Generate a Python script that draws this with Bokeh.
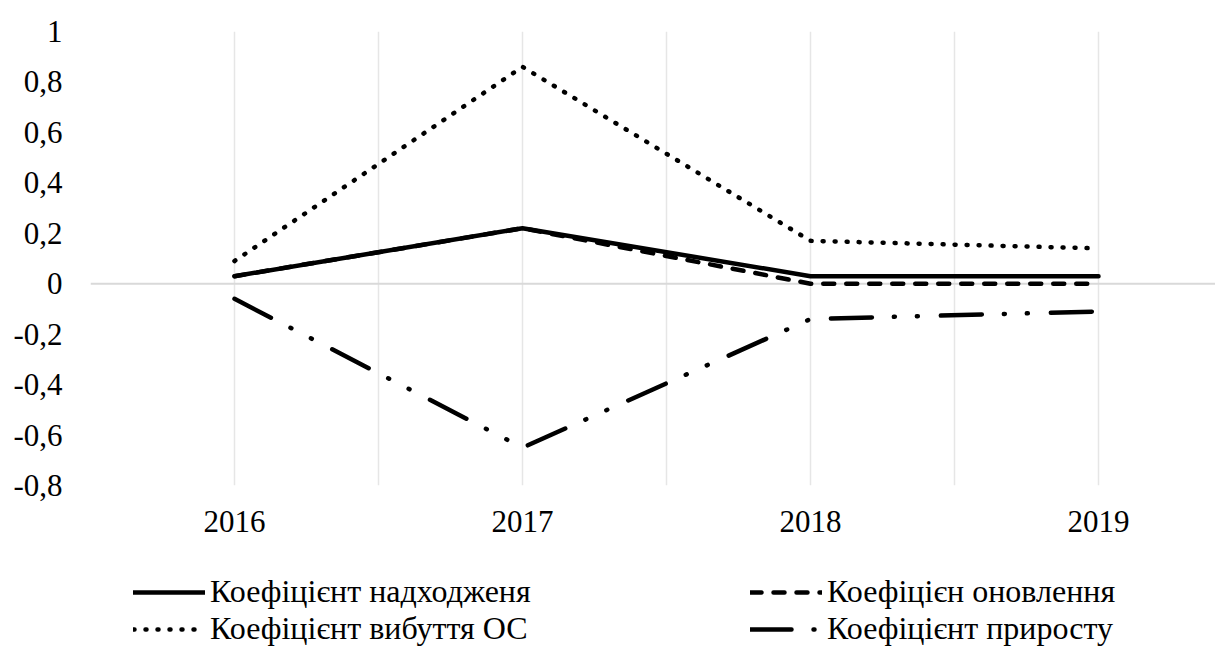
from bokeh.plotting import figure
from bokeh.layouts import column
from bokeh.models import Range1d, FixedTicker, Span, Legend, LegendItem
from bokeh.embed import file_html
from bokeh.resources import INLINE

# ---- data ----
years = ["2016", "2017", "2018", "2019"]
k_nadkhodzhennia = [0.03, 0.22, 0.03, 0.03]
k_onovlennia = [0.03, 0.22, 0.0, 0.0]
k_vybuttia = [0.09, 0.86, 0.17, 0.14]
k_pryrostu = [-0.06, -0.65, -0.14, -0.11]
series_names = ["Коефіцієнт надходженя", "Коефіцієн оновлення",
                "Коефіцієнт вибуття ОС", "Коефіцієнт приросту"]
y_ticks = [-0.8, -0.6, -0.4, -0.2, 0, 0.2, 0.4, 0.6, 0.8, 1]
y_tick_labels = ["-0,8", "-0,6", "-0,4", "-0,2", "0", "0,2", "0,4", "0,6", "0,8", "1"]

FONT = "Liberation Serif"
FS = "31px"
FS_LEG = "32px"

x = list(range(len(years)))

W = 1215
H1, H2 = 552, 95
LEFT, TOP, FH = 90, 31, 454
p = figure(width=W, height=H1, output_backend="svg", toolbar_location=None,
           x_range=Range1d(-0.5, -0.5 + (W - LEFT) / 288), y_range=Range1d(-0.8, 1),
           min_border_left=LEFT, min_border_right=0, min_border_top=TOP,
           min_border_bottom=H1 - TOP - FH)
p.outline_line_color = None

# axes
p.xaxis.ticker = FixedTicker(ticks=x)
p.xaxis.major_label_overrides = {i: y for i, y in enumerate(years)}
p.yaxis.ticker = FixedTicker(ticks=y_ticks)
p.yaxis.major_label_overrides = dict(zip(y_ticks, y_tick_labels))
for ax in (p.xaxis, p.yaxis):
    ax.axis_line_color = None
    ax.major_tick_line_color = None
    ax.minor_tick_line_color = None
    ax.major_tick_out = 0
    ax.major_tick_in = 0
    ax.major_label_text_font = FONT
    ax.major_label_text_font_size = FS
    ax.major_label_text_color = "black"
p.xaxis.major_label_standoff = 25
p.yaxis.major_label_standoff = 28

# grid
p.ygrid.grid_line_color = None
p.xgrid.ticker = FixedTicker(ticks=[-0.5 + 0.5 * i for i in range(9)])
p.xgrid.grid_line_color = "#e6e6e6"
p.xgrid.grid_line_width = 1.5

p.add_layout(Span(location=0, dimension="width", line_color="#d9d9d9",
                  line_width=2, level="underlay"))

styles = [
    dict(line_dash="solid"),
    dict(line_dash="11 12"),
    dict(line_dash="1 11"),
    dict(line_dash="41 22 1 22 1 23"),
]
series = [k_nadkhodzhennia, k_onovlennia, k_vybuttia, k_pryrostu]
for vals, st in zip(series, styles):
    p.line(x, vals, line_color="black", line_width=4.5, line_cap="round",
           line_join="round", **st)

# ---- legend strip below the chart ----
p2 = figure(width=W, height=H2, output_backend="svg", toolbar_location=None,
            x_range=Range1d(0, 1), y_range=Range1d(0, 1),
            min_border=0, min_border_left=0, min_border_right=0,
            min_border_top=0, min_border_bottom=0)
p2.outline_line_color = None
p2.axis.visible = False
p2.grid.visible = False
leg_renderers = []
for st in styles:
    # placeholder renderers (no visible data) that only carry the legend styles
    r = p2.line([float("nan")], [float("nan")], line_color="black", line_width=4.5,
                line_cap="round", line_join="round", **st)
    leg_renderers.append(r)

legend = Legend(items=[LegendItem(label=n, renderers=[r]) for n, r in zip(series_names, leg_renderers)],
                location=(43, 0), orientation="horizontal", ncols=2,
                glyph_width=72, glyph_height=20, label_standoff=5, label_width=540,
                spacing=0, padding=0, margin=0, border_line_color=None,
                background_fill_alpha=0,
                label_text_font=FONT, label_text_font_size=FS_LEG, label_text_color="black")
p2.add_layout(legend, "center")

open("out.html", "w").write(file_html(column(p, p2, spacing=0), INLINE))
